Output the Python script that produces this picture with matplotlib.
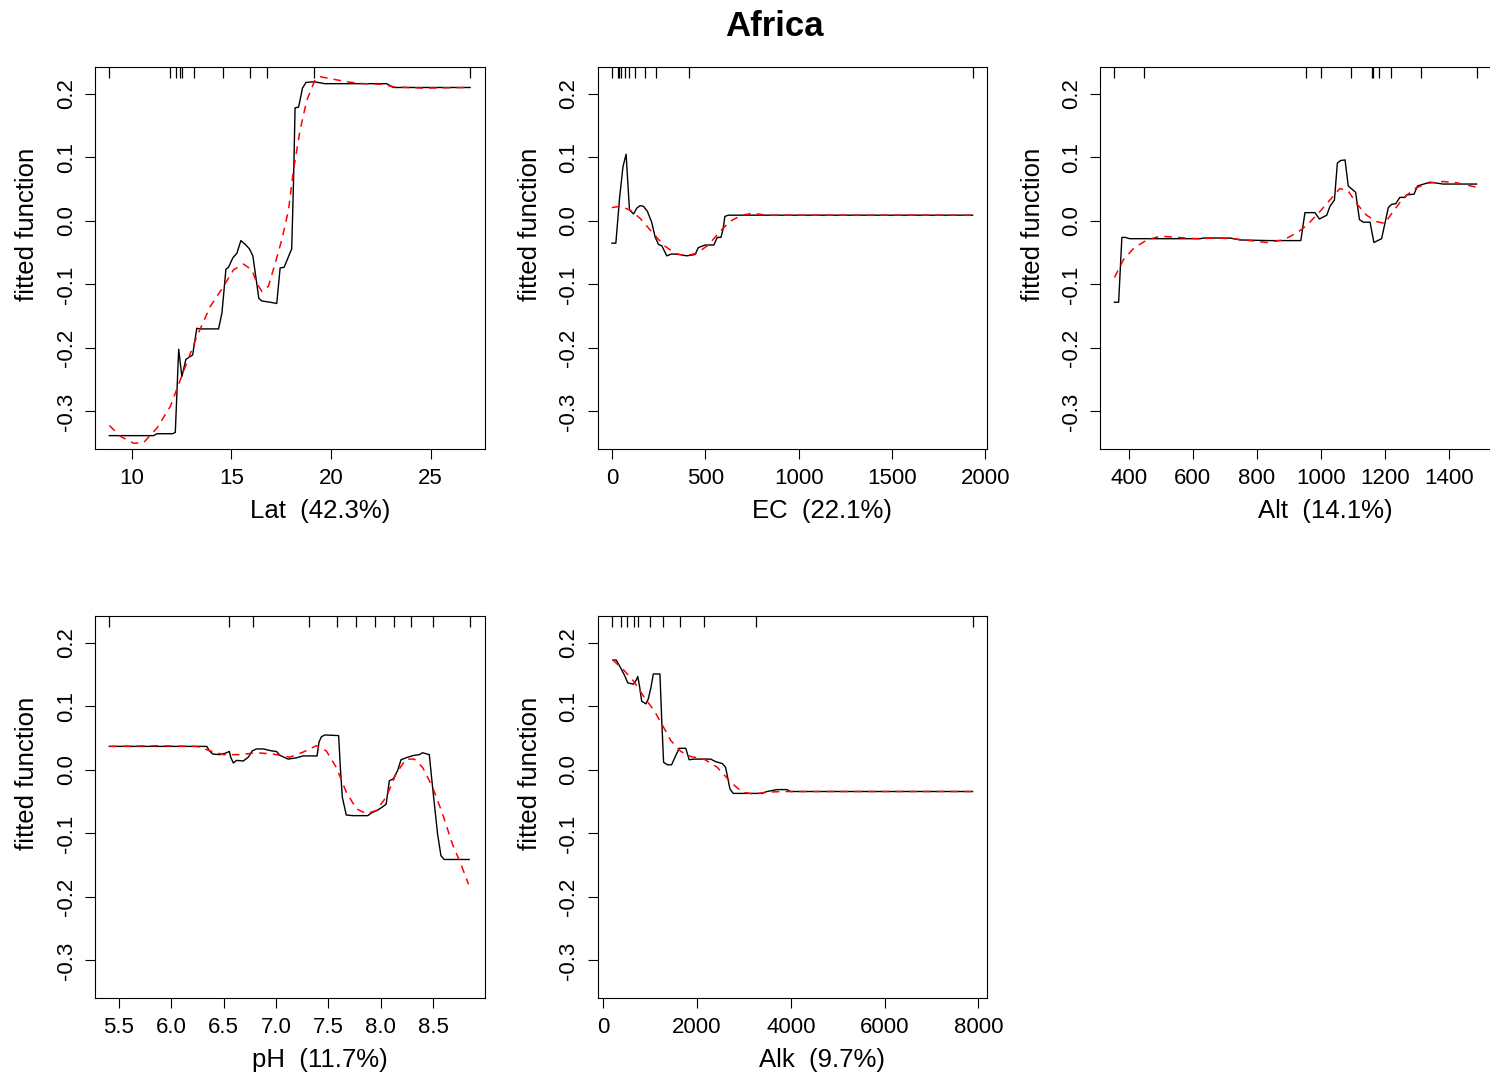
import matplotlib
matplotlib.use("Agg")
import matplotlib.pyplot as plt
import matplotlib.transforms as mtransforms

plt.rcParams['font.family'] = ['Liberation Sans', 'DejaVu Sans']

W, H = 1490, 1080

title = "Africa"
var_names = ["Lat", "EC", "Alt", "pH", "Alk"]
contrib = [42.3, 22.1, 14.1, 11.7, 9.7]
y_range = (-0.336, 0.22)

# fitted function (black) and smoothed version (red dashed) per predictor
lat_x = [8.88, 11.10, 11.27, 12.05, 12.19, 12.36, 12.52, 12.72, 13.06, 13.27, 13.44, 14.36,
         14.53, 14.73, 14.86, 15.08, 15.28, 15.48, 15.70, 15.91, 16.08, 16.23, 16.38, 16.53,
         16.95, 17.28, 17.45, 17.65, 17.82, 18.03, 18.12, 18.20, 18.37, 18.45, 18.57, 18.75,
         19.15, 19.70, 22.79, 23.13, 26.98]
lat_fit = [-0.338, -0.338, -0.335, -0.335, -0.333, -0.202, -0.245, -0.218, -0.211, -0.169,
           -0.170, -0.170, -0.145, -0.076, -0.073, -0.058, -0.051, -0.031, -0.037, -0.044,
           -0.055, -0.088, -0.122, -0.126, -0.128, -0.130, -0.074, -0.073, -0.060, -0.044,
           0.059, 0.178, 0.179, 0.190, 0.209, 0.218, 0.219, 0.216, 0.216, 0.210, 0.210]
lat_sx = [8.88, 9.43, 10.10, 10.60, 11.27, 11.94, 12.60, 13.27, 13.94, 14.61, 15.11, 15.61,
          16.03, 16.28, 16.53, 16.86, 17.20, 17.53, 17.87, 18.12, 18.45, 18.79, 19.20, 19.45,
          19.95, 20.79, 21.62, 22.62, 23.13, 24.63, 26.98]
lat_smooth = [-0.322, -0.339, -0.350, -0.349, -0.326, -0.292, -0.237, -0.182, -0.135, -0.103,
              -0.077, -0.068, -0.077, -0.098, -0.111, -0.103, -0.067, -0.030, 0.017, 0.080,
              0.143, 0.190, 0.222, 0.227, 0.224, 0.219, 0.216, 0.215, 0.211, 0.209, 0.210]
lat_rug = [8.885, 11.93, 12.22, 12.43, 12.55, 13.12, 14.58, 15.95, 16.79, 19.17, 26.98]

ec_x = [0, 21, 41, 59, 76, 94, 116, 133, 151, 169, 190, 213, 231, 249, 267, 294, 320, 365,
        400, 445, 463, 498, 546, 564, 584, 596, 605, 623, 1932]
ec_fit = [-0.035, -0.035, 0.036, 0.085, 0.105, 0.017, 0.011, 0.020, 0.024, 0.023, 0.015,
          -0.002, -0.025, -0.037, -0.039, -0.055, -0.052, -0.053, -0.055, -0.053, -0.042,
          -0.038, -0.038, -0.026, -0.026, -0.012, 0.007, 0.009, 0.009]
ec_sx = [0, 44, 98, 151, 213, 276, 338, 391, 454, 516, 578, 631, 694, 756, 827, 1932]
ec_smooth = [0.021, 0.023, 0.017, 0.004, -0.017, -0.038, -0.051, -0.055, -0.051, -0.038,
             -0.017, -0.001, 0.009, 0.012, 0.009, 0.009]
ec_rug = [0, 30, 40, 50, 69, 91, 124, 178, 237, 413, 1932]

alt_x = [356, 369, 379, 390, 403, 488, 623, 634, 717, 748, 841, 937, 950, 981, 995, 1018,
         1028, 1042, 1051, 1061, 1075, 1085, 1108, 1120, 1132, 1153, 1165, 1189, 1210, 1220,
         1233, 1246, 1262, 1267, 1290, 1301, 1314, 1340, 1381, 1485]
alt_fit = [-0.128, -0.128, -0.026, -0.026, -0.028, -0.028, -0.028, -0.027, -0.027, -0.030,
           -0.031, -0.031, 0.013, 0.013, 0.003, 0.009, 0.023, 0.033, 0.091, 0.095, 0.096,
           0.055, 0.045, 0.002, -0.002, -0.002, -0.034, -0.028, 0.021, 0.026, 0.027, 0.037,
           0.037, 0.041, 0.042, 0.055, 0.057, 0.061, 0.058, 0.058]
alt_sx = [356, 384, 416, 457, 499, 551, 613, 675, 727, 779, 831, 883, 924, 956, 997, 1028,
          1059, 1085, 1110, 1142, 1173, 1199, 1225, 1257, 1293, 1329, 1381, 1423, 1485]
alt_smooth = [-0.089, -0.061, -0.043, -0.030, -0.024, -0.026, -0.028, -0.027, -0.028, -0.031,
              -0.034, -0.030, -0.019, -0.007, 0.015, 0.033, 0.051, 0.047, 0.028, 0.009,
              -0.001, -0.004, 0.015, 0.036, 0.051, 0.059, 0.062, 0.060, 0.053]
alt_rug = [356, 447, 952, 999, 1094, 1159, 1163, 1180, 1218, 1312, 1485]

ph_x = [5.41, 6.34, 6.365, 6.397, 6.466, 6.513, 6.555, 6.568, 6.593, 6.625, 6.688, 6.736,
        6.774, 6.815, 6.878, 6.958, 7.005, 7.037, 7.116, 7.195, 7.259, 7.392, 7.411, 7.433,
        7.465, 7.598, 7.614, 7.633, 7.671, 7.734, 7.877, 7.908, 7.962, 8.010, 8.051, 8.082,
        8.120, 8.161, 8.193, 8.257, 8.320, 8.368, 8.399, 8.463, 8.494, 8.542, 8.574, 8.605,
        8.843]
ph_fit = [0.037, 0.037, 0.030, 0.025, 0.024, 0.026, 0.029, 0.020, 0.011, 0.015, 0.014, 0.020,
          0.030, 0.033, 0.033, 0.030, 0.029, 0.023, 0.017, 0.019, 0.022, 0.022, 0.044, 0.052,
          0.055, 0.054, 0.004, -0.043, -0.071, -0.072, -0.072, -0.068, -0.064, -0.059, -0.054,
          -0.017, -0.014, -0.001, 0.016, 0.020, 0.023, 0.024, 0.027, 0.024, -0.027, -0.101,
          -0.135, -0.141, -0.141]
ph_sx = [5.41, 5.864, 6.245, 6.371, 6.498, 6.657, 6.815, 6.973, 7.132, 7.259, 7.385, 7.480,
         7.575, 7.671, 7.766, 7.861, 7.956, 8.051, 8.146, 8.241, 8.320, 8.399, 8.494, 8.589,
         8.684, 8.764, 8.837]
ph_smooth = [0.037, 0.038, 0.037, 0.030, 0.024, 0.024, 0.027, 0.025, 0.020, 0.028, 0.038,
             0.030, 0.004, -0.035, -0.061, -0.069, -0.064, -0.043, -0.006, 0.017, 0.017,
             0.004, -0.027, -0.069, -0.117, -0.148, -0.180]
ph_rug = [5.411, 6.555, 6.783, 7.316, 7.579, 7.766, 7.943, 8.127, 8.285, 8.497, 8.852]

alk_x = [205, 276, 382, 453, 523, 644, 700, 736, 771, 820, 912, 962, 1018, 1068, 1209, 1245,
         1287, 1372, 1457, 1549, 1620, 1761, 1832, 1938, 2291, 2397, 2539, 2610, 2659, 2702,
         2772, 3388, 3494, 3706, 3918, 3989, 7878]
alk_fit = [0.173, 0.173, 0.159, 0.149, 0.137, 0.135, 0.141, 0.147, 0.133, 0.108, 0.104, 0.112,
           0.130, 0.151, 0.151, 0.083, 0.012, 0.008, 0.008, 0.023, 0.034, 0.034, 0.016, 0.017,
           0.017, 0.013, 0.010, 0.004, -0.014, -0.030, -0.037, -0.037, -0.034, -0.031, -0.031,
           -0.034, -0.034]
alk_sx = [205, 453, 665, 877, 1089, 1266, 1443, 1655, 1867, 2150, 2433, 2716, 2963, 3211,
          3494, 3847, 7878]
alk_smooth = [0.173, 0.156, 0.138, 0.114, 0.093, 0.070, 0.046, 0.029, 0.021, 0.017, 0.004,
              -0.019, -0.035, -0.038, -0.035, -0.034, -0.034]
alk_rug = [185, 382, 503, 651, 749, 1004, 1267, 1628, 2143, 3260, 7878]

x_data = [lat_x, ec_x, alt_x, ph_x, alk_x]
fit_data = [lat_fit, ec_fit, alt_fit, ph_fit, alk_fit]
sx_data = [lat_sx, ec_sx, alt_sx, ph_sx, alk_sx]
smooth_data = [lat_smooth, ec_smooth, alt_smooth, ph_smooth, alk_smooth]
rug_data = [lat_rug, ec_rug, alt_rug, ph_rug, alk_rug]

x_ticks = [[10, 15, 20, 25],
           [0, 500, 1000, 1500, 2000],
           [400, 600, 800, 1000, 1200, 1400],
           [5.5, 6.0, 6.5, 7.0, 7.5, 8.0, 8.5],
           [0, 2000, 4000, 6000, 8000]]
x_ticklabels = [["10", "15", "20", "25"],
                ["0", "500", "1000", "1500", "2000"],
                ["400", "600", "800", "1000", "1200", "1400"],
                ["5.5", "6.0", "6.5", "7.0", "7.5", "8.0", "8.5"],
                ["0", "2000", "4000", "6000", "8000"]]
y_ticks = [-0.3, -0.2, -0.1, 0.0, 0.1, 0.2]
y_ticklabels = ["-0.3", "-0.2", "-0.1", "0.0", "0.1", "0.2"]

# panel boxes in pixels (left, right, top, bottom)
col_lr = [(95, 484.5), (597.5, 987), (1100, 1491)]
row_tb = [(67, 448.5), (616, 997.5)]


def pad4(lo, hi):
    d = (hi - lo) * 0.04
    return lo - d, hi + d


fig = plt.figure(figsize=(W / 100, H / 100), dpi=100)
fig.patch.set_facecolor("white")

fig.text(774.5 / W, 1 - 36 / H, title, ha="center", va="baseline",
         fontsize=25, fontweight="bold")

for k, name in enumerate(var_names):
    r, c = divmod(k, 3)
    left, right = col_lr[c]
    top, bottom = row_tb[r]
    ax = fig.add_axes([left / W, 1 - bottom / H, (right - left) / W, (bottom - top) / H])

    ax.plot(x_data[k], fit_data[k], color="black", lw=1.0)
    ax.plot(sx_data[k], smooth_data[k], color="red", lw=1.1, linestyle=(0, (5, 4)))

    trans = mtransforms.blended_transform_factory(ax.transData, ax.transAxes)
    ax.vlines(rug_data[k], 0.97, 1.0, transform=trans, color="black", lw=0.9)

    ax.set_xlim(*pad4(min(rug_data[k]), max(rug_data[k])))
    ax.set_ylim(*pad4(*y_range))
    ax.set_xticks(x_ticks[k])
    ax.set_xticklabels(x_ticklabels[k])
    ax.set_yticks(y_ticks)
    ax.set_yticklabels(y_ticklabels, rotation=90, va="center")
    ax.tick_params(axis="both", direction="out", length=7.2, width=0.8, labelsize=16)
    ax.tick_params(axis="x", pad=7)
    ax.tick_params(axis="y", pad=6)
    for sp in ax.spines.values():
        sp.set_linewidth(0.8)

    fig.text(((left + right) / 2 + 30) / W, 1 - (bottom + 69.5) / H,
             "%s  (%.1f%%)" % (name, contrib[k]),
             ha="center", va="baseline", fontsize=18.5)
    fig.text((left - 60.5) / W, 1 - ((top + bottom) / 2 - 33) / H, "fitted function",
             ha="center", va="baseline", rotation=90, rotation_mode="anchor", fontsize=18.5)

fig.savefig("out.png", dpi=100, facecolor="white")
